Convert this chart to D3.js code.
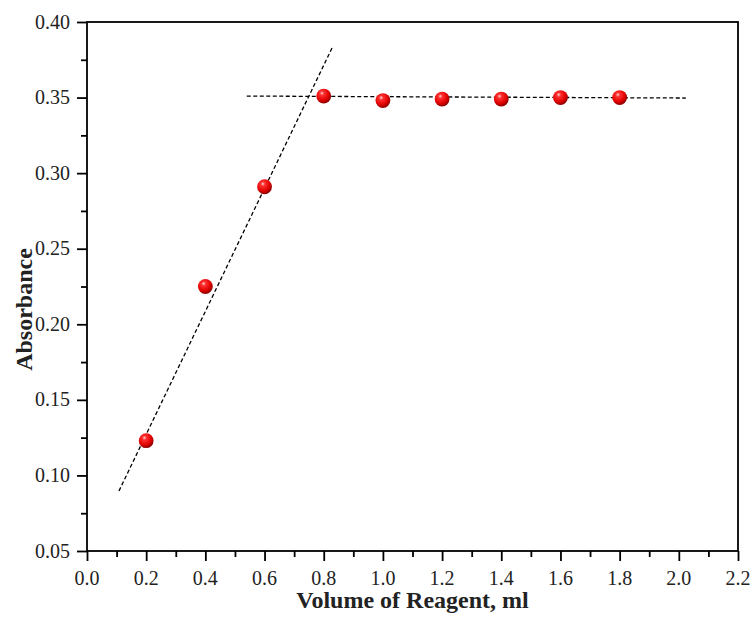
<!DOCTYPE html>
<html><head><meta charset="utf-8">
<script src="https://cdn.jsdelivr.net/npm/d3@7"></script>
<style>body{margin:0;background:#fff;}</style>
</head><body>
<script>
const volumes = [0.2, 0.4, 0.6, 0.8, 1.0, 1.2, 1.4, 1.6, 1.8];
const absorbance = [0.123, 0.225, 0.291, 0.351, 0.348, 0.349, 0.349, 0.350, 0.350];
const riseLineX = [0.108, 0.831];
const riseLineY = [0.0897, 0.384];
const plateauLineX = [0.54, 2.024];
const plateauLineY = [0.351, 0.3497];
const xTicks = [0.0, 0.2, 0.4, 0.6, 0.8, 1.0, 1.2, 1.4, 1.6, 1.8, 2.0, 2.2];
const yTicks = [0.05, 0.10, 0.15, 0.20, 0.25, 0.30, 0.35, 0.40];

const W = 754, H = 617;
const m = {left: 87, top: 22, right: 754 - 738, bottom: 617 - 551};
const svg = d3.select("body").append("svg").attr("width", W).attr("height", H);
const x = d3.scaleLinear().domain([0, 2.2]).range([m.left, W - m.right]);
const y = d3.scaleLinear().domain([0.05, 0.40]).range([H - m.bottom, m.top]);

const defs = svg.append("defs");
const g = defs.append("radialGradient").attr("id", "ball").attr("cx", "40%").attr("cy", "35%").attr("r", "65%").attr("fx", "38%").attr("fy", "30%");
g.append("stop").attr("offset", "0%").attr("stop-color", "#ffd6d6");
g.append("stop").attr("offset", "22%").attr("stop-color", "#ff3030");
g.append("stop").attr("offset", "70%").attr("stop-color", "#e00000");
g.append("stop").attr("offset", "100%").attr("stop-color", "#8a0000");

const font = "Liberation Serif";

// frame
svg.append("rect").attr("x", x(0)).attr("y", y(0.40)).attr("width", x(2.2) - x(0)).attr("height", y(0.05) - y(0.40))
  .attr("fill", "none").attr("stroke", "#000").attr("stroke-width", 1.8);

// axes (tick lines)
const xAxis = d3.axisBottom(x).tickValues(xTicks).tickFormat("").tickSize(10);
const xMinor = d3.axisBottom(x).tickValues(d3.range(0.1, 2.2, 0.2)).tickFormat("").tickSize(6);
const yAxis = d3.axisLeft(y).tickValues(yTicks).tickFormat("").tickSize(10);
const yMinor = d3.axisLeft(y).tickValues(d3.range(0.075, 0.40, 0.05)).tickFormat("").tickSize(6);

function styleAxis(sel) {
  sel.select(".domain").remove();
  sel.selectAll("line").attr("stroke", "#000").attr("stroke-width", 1.8);
}
svg.append("g").attr("transform", `translate(0,${y(0.05)})`).call(xAxis).call(styleAxis);
svg.append("g").attr("transform", `translate(0,${y(0.05)})`).call(xMinor).call(styleAxis);
svg.append("g").attr("transform", `translate(${x(0)},0)`).call(yAxis).call(styleAxis);
svg.append("g").attr("transform", `translate(${x(0)},0)`).call(yMinor).call(styleAxis);

// tick labels
svg.append("g").selectAll("text").data(xTicks).join("text")
  .attr("x", d => x(d)).attr("y", 585).attr("text-anchor", "middle")
  .attr("font-family", font).attr("font-size", 20).attr("fill", "#222")
  .text(d3.format(".1f"));
svg.append("g").selectAll("text").data(yTicks).join("text")
  .attr("x", 70).attr("y", d => y(d)).attr("dy", "0.33em").attr("text-anchor", "end")
  .attr("font-family", font).attr("font-size", 20).attr("fill", "#222")
  .text(d3.format(".2f"));

// fit lines
const line = d3.line().x(d => x(d[0])).y(d => y(d[1]));
svg.append("path").datum(d3.zip(riseLineX, riseLineY)).attr("d", line)
  .attr("fill", "none").attr("stroke", "#000").attr("stroke-width", 1.3).attr("stroke-dasharray", "4,2.5");
svg.append("path").datum(d3.zip(plateauLineX, plateauLineY)).attr("d", line)
  .attr("fill", "none").attr("stroke", "#000").attr("stroke-width", 1.3).attr("stroke-dasharray", "4,2.5");

// points
svg.append("g").selectAll("circle").data(d3.zip(volumes, absorbance)).join("circle")
  .attr("cx", d => x(d[0])).attr("cy", d => y(d[1])).attr("r", 7.4)
  .attr("fill", "url(#ball)");

// titles
svg.append("text").attr("x", 412.5).attr("y", 608).attr("text-anchor", "middle")
  .attr("font-family", font).attr("font-weight", "bold").attr("font-size", 24).attr("fill", "#222")
  .text("Volume of Reagent, ml");
svg.append("text").attr("transform", `translate(32,309.5) rotate(-90)`).attr("text-anchor", "middle")
  .attr("font-family", font).attr("font-weight", "bold").attr("font-size", 24).attr("fill", "#222")
  .text("Absorbance");
</script>
</body></html>
